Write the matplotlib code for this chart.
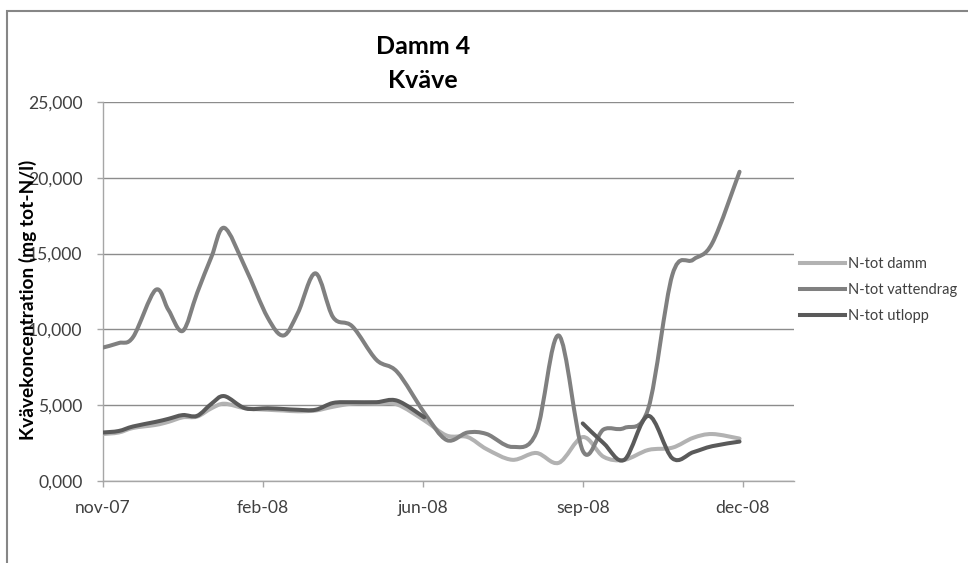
import numpy as np
import matplotlib
matplotlib.use('Agg')
import matplotlib.pyplot as plt
import matplotlib.dates as mdates
from matplotlib.path import Path
from matplotlib.patches import PathPatch, Rectangle
from matplotlib.lines import Line2D

plt.rcParams['font.family'] = ['Lato', 'DejaVu Sans']

# provtagningsdatum
dates = ['2007-11-15', '2007-11-25', '2007-12-04', '2007-12-18', '2007-12-26',
         '2008-01-04', '2008-01-13', '2008-01-22', '2008-01-30', '2008-02-12',
         '2008-02-26', '2008-03-07', '2008-03-16', '2008-03-27', '2008-04-07',
         '2008-04-19', '2008-05-04', '2008-05-17', '2008-06-03', '2008-06-17',
         '2008-06-30', '2008-07-12', '2008-07-28', '2008-08-12', '2008-08-26',
         '2008-09-10', '2008-09-23', '2008-10-06', '2008-10-21', '2008-11-05',
         '2008-11-18', '2008-11-30', '2008-12-17']

nan = np.nan
# mg tot-N/l
n_damm = [3.1, 3.2, 3.5, 3.7, 3.9, 4.2, 4.25, 4.8, 5.1, 4.8,
          4.7, 4.65, 4.6, 4.65, 4.9, 5.1, 5.1, 5.05, 4.0, 3.0,
          2.9, 2.1, 1.4, 1.85, 1.2, 2.9, 1.6, 1.4, 2.05, 2.2,
          2.85, 3.1, 2.8]
n_vattendrag = [8.8, 9.1, 9.5, 12.6, 11.3, 9.9, 12.4, 14.8, 16.7, 14.1,
                10.8, 9.6, 11.1, 13.7, 10.8, 10.2, 8.0, 7.2, 4.5, 2.7,
                3.2, 3.1, 2.25, 3.2, 9.6, 2.0, 3.4, 3.5, 4.8, 13.6,
                14.6, 15.7, 20.4]
n_utlopp = [3.2, 3.3, 3.6, 3.9, 4.1, 4.35, 4.3, 5.1, 5.6, 4.8,
            4.8, 4.75, 4.7, 4.7, 5.15, 5.2, 5.2, 5.3, 4.2, nan,
            nan, nan, nan, nan, nan, 3.8, 2.5, 1.4, 4.3, 1.5,
            1.9, 2.3, 2.6]

series = [('N-tot damm', n_damm, '#b2b2b2'),
          ('N-tot vattendrag', n_vattendrag, '#808080'),
          ('N-tot utlopp', n_utlopp, '#5a5a5a')]

tick_dates = ['2007-11-15', '2008-02-23', '2008-06-02', '2008-09-10', '2008-12-19']
tick_labels = ['nov-07', 'feb-08', 'jun-08', 'sep-08', 'dec-08']
y_ticks = [0, 5, 10, 15, 20, 25]


def to_num(ds):
    return mdates.date2num(np.array(ds, dtype='datetime64[D]'))


def smooth_path(xs, ys):
    # utjämnad linje som i Excel (Bezier genom punkterna)
    pts = np.column_stack([xs, ys])
    n = len(pts)
    verts = [pts[0]]
    codes = [Path.MOVETO]
    for i in range(n - 1):
        p0 = pts[i - 1] if i > 0 else pts[i]
        p1 = pts[i]
        p2 = pts[i + 1]
        p3 = pts[i + 2] if i + 2 < n else pts[i + 1]
        verts += [p1 + (p2 - p0) / 6, p2 - (p3 - p1) / 6, p2]
        codes += [Path.CURVE4] * 3
    return Path(verts, codes)


fig = plt.figure(figsize=(9.68, 5.63), dpi=100)
ax = fig.add_axes([0.1061, 0.1456, 0.7141, 0.6732])

x = to_num(dates)
handles = []
for label, vals, color in series:
    y = np.array(vals, dtype=float)
    ok = ~np.isnan(y)
    # dela upp i sammanhängande delar
    start = None
    for i in range(len(y) + 1):
        if i < len(y) and ok[i]:
            if start is None:
                start = i
        elif start is not None:
            if i - start > 1:
                p = smooth_path(x[start:i], y[start:i])
                ax.add_patch(PathPatch(p, fill=False, edgecolor=color, lw=2.9,
                                       capstyle='round', joinstyle='round', zorder=3))
            start = None
    handles.append(Line2D([], [], color=color, lw=2.9, label=label))

xt = to_num(tick_dates)
ax.set_xlim(xt[0], xt[0] + 432)
ax.set_ylim(0, 25)
ax.set_xticks(xt)
ax.set_xticklabels(tick_labels)
ax.set_yticks(y_ticks)
ax.set_yticklabels([('%.3f' % v).replace('.', ',') for v in y_ticks])

ax.grid(axis='y', color='#8c8c8c', lw=1.0)
ax.set_axisbelow(True)
for s in ['top', 'right']:
    ax.spines[s].set_visible(False)
for s in ['left', 'bottom']:
    ax.spines[s].set_color('#a6a6a6')
    ax.spines[s].set_linewidth(1.0)
ax.tick_params(axis='both', colors='#a6a6a6', length=4.5, width=1.0,
               labelcolor='#404040', labelsize=12.6)
ax.tick_params(axis='y', pad=10)
ax.tick_params(axis='x', pad=9)

fig.text(423 / 968, 1 - 46 / 563, 'Damm 4', ha='center', va='center',
         fontsize=18, fontweight='bold', color='black')
fig.text(423 / 968, 1 - 80 / 563, 'Kväve', ha='center', va='center',
         fontsize=18, fontweight='bold', color='black')
fig.text(28 / 968, 1 - 300 / 563, 'Kvävekoncentration (mg tot-N/l)',
         rotation=90, ha='center', va='center', fontsize=13.8,
         fontweight='bold', color='black')

fig.legend(handles=handles, loc='center left',
           bbox_to_anchor=(800 / 968, 1 - 290 / 563), frameon=False,
           fontsize=10.5, handlelength=3.1, handletextpad=0.2,
           labelspacing=0.85, borderpad=0, borderaxespad=0,
           labelcolor='#404040')

# ram runt diagrammet
fig.patches.append(Rectangle((7 / 968, -0.5), 2, 1.5 - 11 / 563,
                             transform=fig.transFigure, fill=False,
                             edgecolor='#868686', lw=1.5))

fig.savefig('out.png', dpi=100)
